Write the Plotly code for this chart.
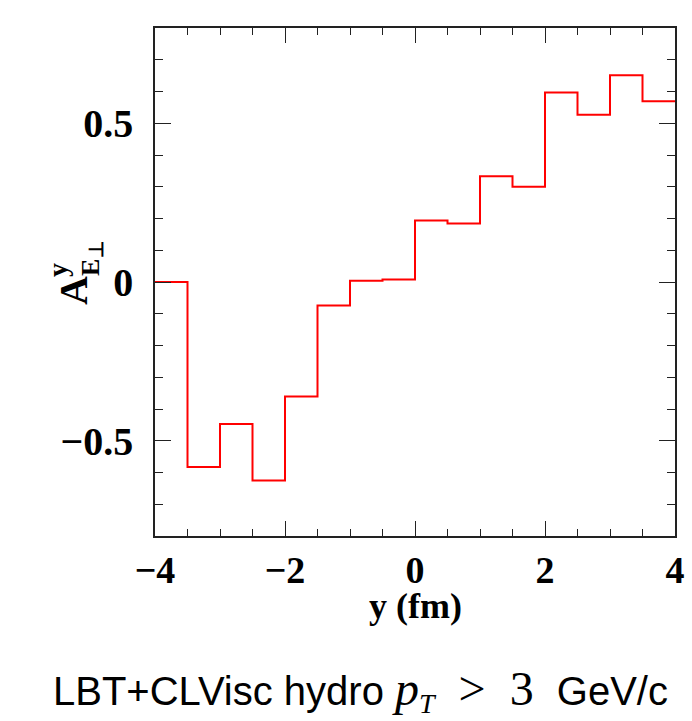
import plotly.graph_objects as go

# Bin edges along y (fm) and the asymmetry value in each bin
bin_edges = [-4.0, -3.5, -3.0, -2.5, -2.0, -1.5, -1.0, -0.5, 0.0,
             0.5, 1.0, 1.5, 2.0, 2.5, 3.0, 3.5, 4.0]
asym_values = [0.0, -0.583, -0.447, -0.625, -0.361, -0.074, 0.004, 0.008,
               0.194, 0.184, 0.333, 0.300, 0.597, 0.527, 0.651, 0.569]

x_tick_vals = [-4, -2, 0, 2, 4]
x_tick_text = ["\u22124", "\u22122", "0", "2", "4"]
y_tick_vals = [-0.5, 0, 0.5]
y_tick_text = ["\u22120.5", "0", "0.5"]

W, H = 692, 721
L, R, T, B = 155, 675, 28, 536

def px(xpix):
    return (xpix - L) / (R - L)

def py(ypix):
    return (B - ypix) / (B - T)

serif = "Liberation Serif"
sans = "Liberation Sans"
frame = "#222222"

fig = go.Figure()
fig.add_trace(go.Scatter(
    x=bin_edges,
    y=asym_values + [asym_values[-1]],
    mode="lines",
    line=dict(shape="hv", color="#ff0000", width=2),
    showlegend=False,
    hoverinfo="skip",
))

fig.update_layout(
    width=W, height=H,
    margin=dict(l=L, r=W - R, t=T, b=H - B),
    paper_bgcolor="white",
    plot_bgcolor="white",
)

fig.update_xaxes(
    range=[-4, 4], automargin=False,
    tickvals=x_tick_vals, ticktext=x_tick_text,
    ticks="inside", ticklen=15, tickwidth=1.3, tickcolor=frame,
    minor=dict(dtick=0.5, ticks="inside", ticklen=7, tickwidth=1.1, tickcolor=frame),
    showline=True, linecolor=frame, linewidth=1.5, mirror="allticks",
    showgrid=False, zeroline=False,
    tickfont=dict(family=serif, size=38, color="black", weight="bold"),
    ticklabelstandoff=0,
)
fig.update_yaxes(
    range=[-0.8, 0.8], automargin=False,
    tickvals=y_tick_vals, ticktext=y_tick_text,
    ticks="inside", ticklen=16, tickwidth=1.3, tickcolor=frame,
    minor=dict(dtick=0.1, ticks="inside", ticklen=8, tickwidth=1.1, tickcolor=frame),
    showline=True, linecolor=frame, linewidth=1.5, mirror="allticks",
    showgrid=False, zeroline=False,
    tickfont=dict(family=serif, size=40, color="black", weight="bold"),
    ticklabelstandoff=12,
)

def label(text, xpix, ypix, size, family=serif, bold=True, angle=0):
    fig.add_annotation(
        text=text, x=px(xpix), y=py(ypix), xref="paper", yref="paper",
        showarrow=False, textangle=angle, xanchor="center", yanchor="middle",
        font=dict(family=family, size=size, color="black",
                  weight="bold" if bold else "normal"),
    )

# x-axis title
label("y (fm)", 415, 606, 36)

# y-axis title: A with superscript y and subscript E_perp, rotated
label("A", 73, 291, 40, angle=-90)
label("y", 57, 270, 28, angle=-90)
label("E", 90, 268, 26, angle=-90)
label("\u22a5", 96, 250, 20, angle=-90)

# caption below the plot
caption = (
    "LBT+CLVisc hydro "
    '<span style="font-family:Liberation Serif;font-style:italic;font-size:48px">p</span>'
    '<span style="font-family:Liberation Serif;font-style:italic;font-size:40px"><sub>T</sub></span>'
    '<span style="font-family:Liberation Serif;font-size:48px">  &gt;  3 </span>'
    " GeV/c"
)
label(caption, 360, 690, 40, family=sans, bold=False)

fig.write_html("out.html")
